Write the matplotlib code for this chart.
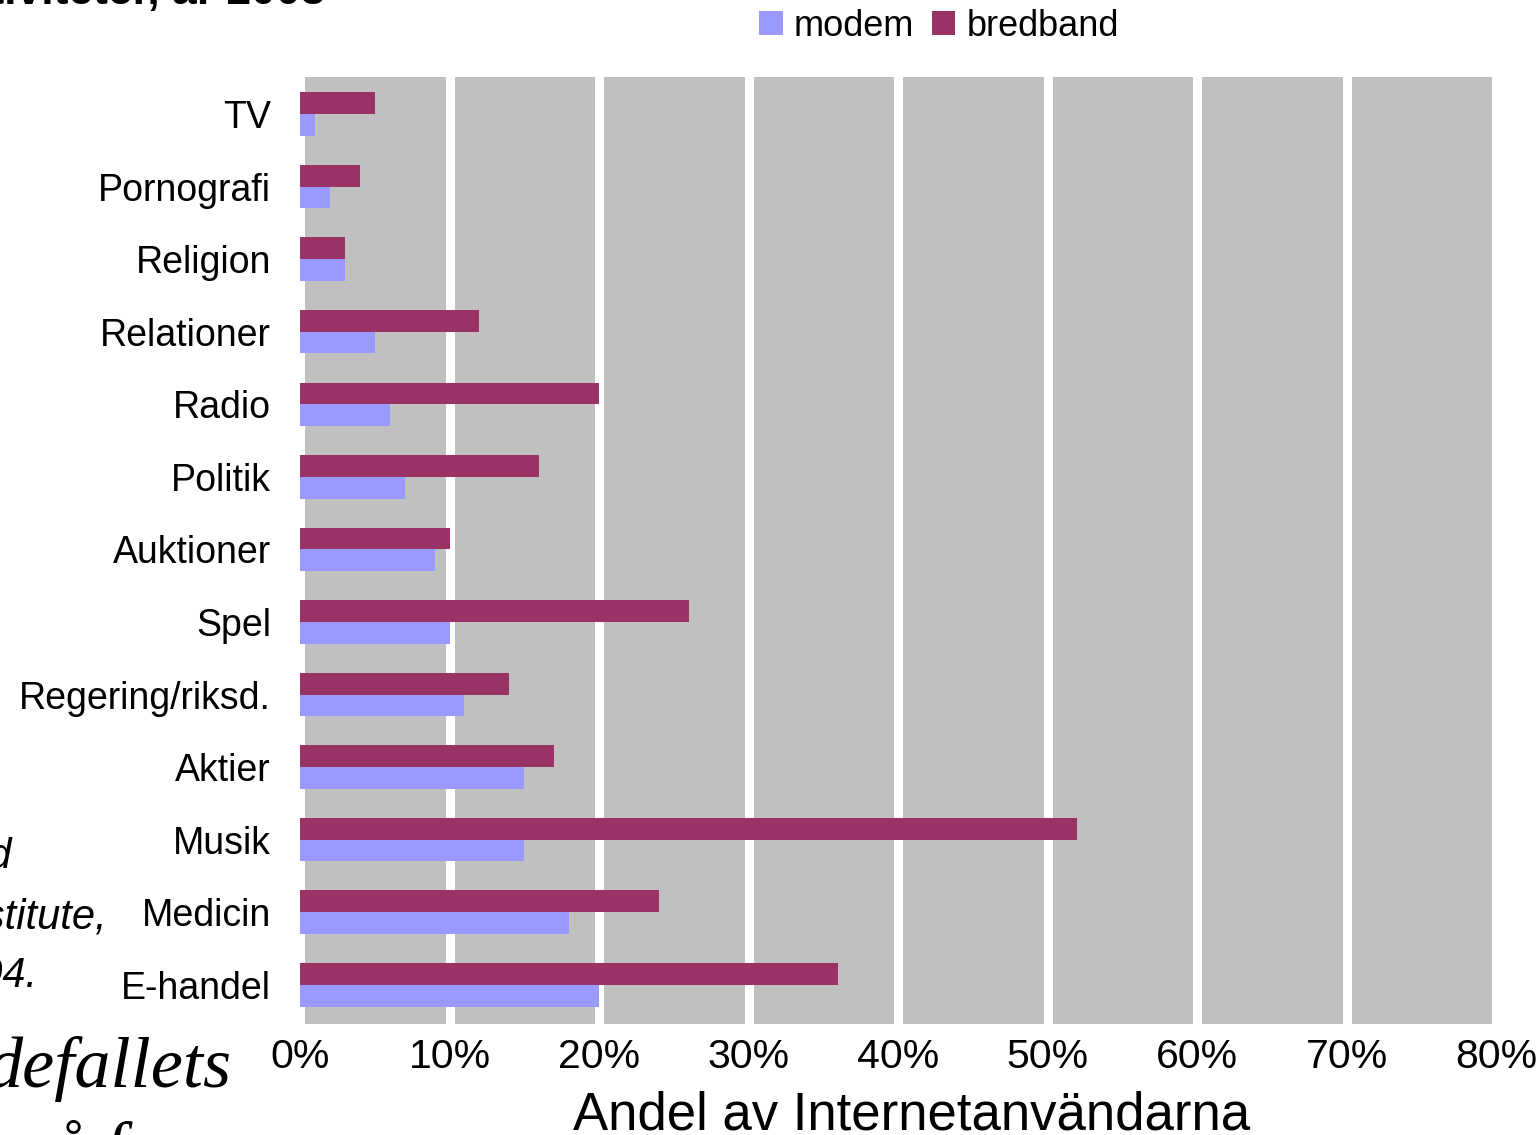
import matplotlib
matplotlib.use("Agg")
import matplotlib.pyplot as plt
from matplotlib.patches import Patch
import numpy as np

categories = ["TV", "Pornografi", "Religion", "Relationer", "Radio", "Politik",
              "Auktioner", "Spel", "Regering/riksd.", "Aktier", "Musik",
              "Medicin", "E-handel"]
modem = [1, 2, 3, 5, 6, 7, 9, 10, 11, 15, 15, 18, 20]
bredband = [5, 4, 3, 12, 20, 16, 10, 26, 14, 17, 52, 24, 36]
xticks = [0, 10, 20, 30, 40, 50, 60, 70, 80]
xticklabels = ["0%", "10%", "20%", "30%", "40%", "50%", "60%", "70%", "80%"]

C_MODEM = "#9999FF"
C_BRED = "#993366"
C_BG = "#C0C0C0"

plt.rcParams["font.family"] = ["Liberation Sans", "DejaVu Sans"]

W, H = 1537, 1135
fig = plt.figure(figsize=(W / 100, H / 100), dpi=100)
ax = fig.add_axes([300 / W, 1 - 1024 / H, 1196 / W, 947 / H])
ax.set_facecolor(C_BG)

y = np.arange(len(categories))
h = 0.3
ax.barh(y - h / 2, bredband, height=h, color=C_BRED, zorder=3)
ax.barh(y + h / 2, modem, height=h, color=C_MODEM, zorder=3)

ax.set_xlim(0, 80)
ax.set_ylim(12.54, -0.51)
ax.set_xticks(xticks)
ax.set_xticklabels(xticklabels, fontsize=29.5)
ax.set_yticks(y)
ax.set_yticklabels(categories, fontsize=27)
ax.tick_params(axis="both", length=0)
ax.tick_params(axis="y", pad=21)
ax.tick_params(axis="x", pad=10)
ax.grid(axis="x", color="white", linewidth=6.5, zorder=1)
ax.grid(axis="y", visible=False)
ax.set_axisbelow(True)
for s in ax.spines.values():
    s.set_visible(False)

ax.set_xlabel("Andel av Internetanvändarna", fontsize=38)
ax.xaxis.set_label_coords((912 - 300) / 1196, -0.0705)

handles = [Patch(facecolor=C_MODEM, label="modem"),
           Patch(facecolor=C_BRED, label="bredband")]
fig.legend(handles=handles, loc="center", bbox_to_anchor=(939 / W, 1 - 26 / H),
           ncol=2, frameon=False, fontsize=26, handlelength=0.65,
           handleheight=0.65, handletextpad=0.3, columnspacing=0.5,
           borderpad=0, borderaxespad=0)

# cropped slide text fragments around the chart
fig.text(325 / W, 1 - 4 / H, "Internetaktiviteter, år 2003", ha="right",
         va="baseline", fontsize=32, fontweight="bold")
fig.text(12 / W, 1 - 868 / H, "Stanford", ha="right", va="baseline",
         fontsize=30, style="italic")
fig.text(107 / W, 1 - 928 / H, "Institute,", ha="right", va="baseline",
         fontsize=30, style="italic")
fig.text(37 / W, 1 - 987 / H, "2004.", ha="right", va="baseline",
         fontsize=30, style="italic")
fig.text(232 / W, 1 - 1087 / H, "defallets", ha="right", va="baseline",
         fontsize=52, style="italic", family=["Liberation Serif", "DejaVu Serif"])
fig.text(50 / W, 1 - 1172 / H, "å f", ha="left", va="baseline",
         fontsize=52, style="italic", family=["Liberation Serif", "DejaVu Serif"])

fig.savefig("out.png", dpi=100)
